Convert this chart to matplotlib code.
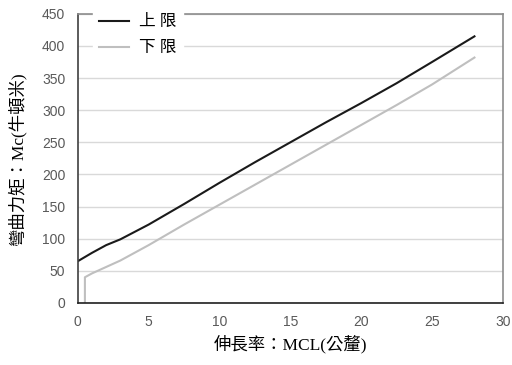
import matplotlib.pyplot as plt

# 上限 / 下限 曲線 (讀圖估計)
upper_x = [0, 1, 2, 3, 5, 7.5, 10, 12.5, 15, 17.5, 20, 22.5, 25, 28]
upper_y = [65, 78, 90, 99, 122, 154, 187, 219, 250, 281, 311, 342, 375, 415]
lower_x = [0.5, 0.5, 1, 2, 3, 5, 7.5, 10, 12.5, 15, 17.5, 20, 22.5, 25, 28]
lower_y = [0, 40, 46, 56, 66, 90, 122, 153, 184, 215, 246, 277, 308, 340, 382]
x_ticks = [0, 5, 10, 15, 20, 25, 30]
y_ticks = [0, 50, 100, 150, 200, 250, 300, 350, 400, 450]

fam = ['Liberation Serif', 'Noto Sans CJK TC']

fig = plt.figure(figsize=(5.12, 3.65), dpi=100)
ax = fig.add_axes([0.152, 0.170, 0.830, 0.792])

ax.plot(upper_x, upper_y, color='#1a1a1a', lw=1.5, label='上 限')
ax.plot(lower_x, lower_y, color='#bfbfbf', lw=1.5, label='下 限')

ax.set_xlim(0, 30)
ax.set_ylim(0, 450)
ax.set_xticks(x_ticks)
ax.set_yticks(y_ticks)
ax.yaxis.grid(True, color='#d9d9d9', lw=1)
ax.set_axisbelow(True)
ax.tick_params(length=0, labelsize=10, colors='#595959', pad=9)
for lab in ax.get_xticklabels() + ax.get_yticklabels():
    lab.set_family('Liberation Sans')

ax.spines['left'].set_color('#404040')
ax.spines['bottom'].set_color('#202020')
ax.spines['top'].set_color('#8c8c8c')
ax.spines['right'].set_color('#8c8c8c')
for s in ax.spines.values():
    s.set_linewidth(1.2)

ax.set_xlabel('伸長率：MCL(公釐)', family=fam, fontsize=12.5, labelpad=4)
ax.set_ylabel('彎曲力矩：Mc(牛頓米)', family=fam, fontsize=12.5, labelpad=11)

leg = ax.legend(loc='upper left', bbox_to_anchor=(0.015, 1.05), frameon=True,
                framealpha=1, edgecolor='white', fancybox=False,
                prop={'family': fam, 'size': 12}, handlelength=1.8,
                handletextpad=0.6, labelspacing=0.6, borderpad=0.4)
leg.set_zorder(5)

fig.savefig('out.png', dpi=100)
